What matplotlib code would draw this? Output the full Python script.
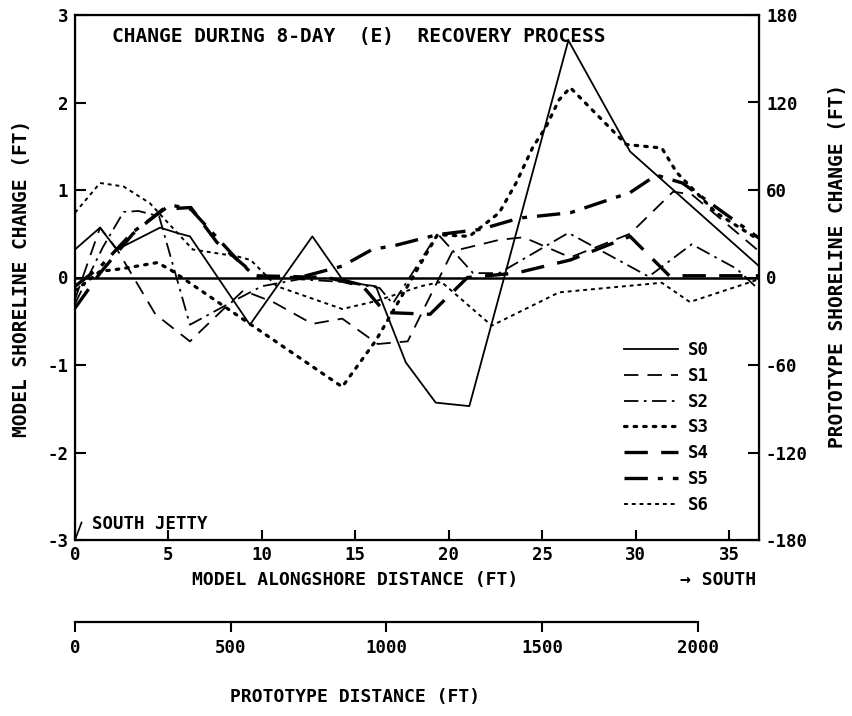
import matplotlib
matplotlib.use('Agg')
import matplotlib.pyplot as plt

plt.rcParams['font.family'] = ['DejaVu Sans Mono']
plt.rcParams['font.weight'] = 'bold'
plt.rcParams['axes.unicode_minus'] = False

# model alongshore distance (ft) / shoreline change (ft)
s0_x = [0, 1.34, 2.23, 2.8, 4.55, 5.45, 6.15, 9.36, 12.7, 14.3, 15.4, 16.1, 17.7, 19.3, 21.1, 26.4, 29.7, 36.6]
s0_y = [0.32, 0.57, 0.32, 0.38, 0.57, 0.51, 0.47, -0.54, 0.47, -0.02, -0.08, -0.1, -0.97, -1.43, -1.47, 2.71, 1.44, 0.13]

s1_x = [0, 1.34, 2.25, 4.3, 6.15, 7.9, 9.0, 10.6, 12.7, 14.3, 16.2, 17.8, 20.2, 22.7, 24.0, 26.5, 29.7, 32.0, 33.0, 36.6]
s1_y = [-0.25, 0.57, 0.32, -0.42, -0.73, -0.37, -0.15, -0.28, -0.53, -0.47, -0.76, -0.73, 0.3, 0.43, 0.46, 0.23, 0.5, 0.98, 0.95, 0.3]

s2_x = [0, 1.5, 2.6, 3.4, 4.5, 6.15, 8.65, 10.0, 12.0, 14.3, 16.3, 17.0, 19.4, 21.3, 22.7, 26.4, 30.7, 33.0, 35.4, 36.6]
s2_y = [-0.3, 0.35, 0.75, 0.76, 0.7, -0.54, -0.25, -0.1, -0.02, -0.05, -0.12, -0.3, 0.5, 0.05, 0.05, 0.51, 0.01, 0.38, 0.1, -0.14]

s3_x = [0, 1.34, 2.5, 4.4, 5.1, 14.3, 16.1, 19.4, 21.1, 22.7, 23.6, 24.5, 25.2, 25.9, 26.5, 29.5, 31.4, 32.2, 34.3, 36.6]
s3_y = [-0.15, 0.07, 0.1, 0.17, 0.09, -1.25, -0.72, 0.49, 0.47, 0.74, 1.08, 1.49, 1.72, 2.03, 2.17, 1.52, 1.48, 1.2, 0.74, 0.43]

s4_x = [0, 1.34, 3.1, 4.7, 6.2, 7.6, 9.7, 13.5, 15.4, 16.6, 19.0, 21.0, 23.6, 26.5, 29.7, 31.8, 36.6]
s4_y = [-0.35, 0.05, 0.5, 0.78, 0.8, 0.4, 0.02, 0.0, -0.1, -0.4, -0.42, 0.0, 0.05, 0.2, 0.47, 0.02, 0.02]

s5_x = [0, 1.34, 3.1, 5.1, 6.2, 8.7, 9.7, 12.0, 14.3, 15.9, 17.2, 19.4, 21.7, 23.8, 26.5, 29.7, 31.1, 32.5, 36.6]
s5_y = [-0.1, 0.12, 0.52, 0.83, 0.78, 0.2, 0.0, 0.0, 0.13, 0.32, 0.37, 0.49, 0.55, 0.68, 0.74, 0.97, 1.17, 1.08, 0.45]

s6_x = [0, 1.34, 2.6, 4.0, 6.3, 8.7, 9.4, 10.8, 14.3, 16.1, 18.5, 19.6, 22.3, 25.9, 31.4, 32.9, 36.6]
s6_y = [0.74, 1.08, 1.04, 0.85, 0.32, 0.24, 0.2, -0.1, -0.36, -0.27, -0.1, -0.05, -0.55, -0.17, -0.06, -0.28, -0.02]

labels = ['S0', 'S1', 'S2', 'S3', 'S4', 'S5', 'S6']
scale = 60  # prototype ft per model ft
x_max = 36.6
proto_ticks = [0, 500, 1000, 1500, 2000]

series = [(s0_x, s0_y), (s1_x, s1_y), (s2_x, s2_y), (s3_x, s3_y),
          (s4_x, s4_y), (s5_x, s5_y), (s6_x, s6_y)]
styles = [
    dict(lw=1.3, ls='-'),
    dict(lw=1.3, ls=(0, (8, 5))),
    dict(lw=1.3, ls=(0, (8, 3, 1.5, 3))),
    dict(lw=2.3, ls=(0, (0.8, 2.2)), dash_capstyle='round'),
    dict(lw=2.4, ls=(0, (7, 4))),
    dict(lw=2.4, ls=(0, (7, 3, 1.5, 3))),
    dict(lw=1.4, ls=(0, (2, 2))),
]

W, H = 853, 716
fig = plt.figure(figsize=(W / 100, H / 100), dpi=100)
L, R, T, B = 75, 759, 15, 540
ax = fig.add_axes([L / W, 1 - B / H, (R - L) / W, (B - T) / H])

for (xs, ys), st, lab in zip(series, styles, labels):
    ax.plot(xs, ys, color='black', label=lab, **st)

ax.axhline(0, color='black', lw=1.8)
ax.set_xlim(0, x_max)
ax.set_ylim(-3, 3)
ax.set_xticks(range(0, 36, 5))
ax.set_yticks(range(-3, 4))
for s in ax.spines.values():
    s.set_linewidth(1.6)
ax.tick_params(axis='y', direction='in', length=8, width=1.5, labelsize=12.5, pad=5)
ax.tick_params(axis='x', direction='in', length=7, width=1.5, labelsize=12.5, pad=4)

ax2 = ax.twinx()
ax2.set_ylim(-3 * scale, 3 * scale)
ax2.set_yticks(range(-180, 181, 60))
ax2.tick_params(axis='y', direction='in', length=8, width=1.5, labelsize=12.5, pad=5)

fig.text(22 / W, 1 - 278 / H, 'MODEL SHORELINE CHANGE (FT)', fontsize=14,
         rotation=90, ha='center', va='center')
fig.text(838 / W, 1 - 266 / H, 'PROTOTYPE SHORELINE CHANGE (FT)', fontsize=14,
         rotation=90, ha='center', va='center')

ax.text(2.0, 2.75, 'CHANGE DURING 8-DAY  (E)  RECOVERY PROCESS', fontsize=14,
        va='center', ha='left')
ax.plot([0, 0.35], [-3, -2.8], color='black', lw=1.2)
ax.text(0.9, -2.82, 'SOUTH JETTY', fontsize=12.5, va='center', ha='left')

leg = ax.legend(loc='lower right', bbox_to_anchor=(0.95, 0.02), frameon=False,
                fontsize=12.5, handlelength=3.1, handletextpad=0.6,
                labelspacing=0.45)

fig.text(355 / W, 1 - 580 / H, 'MODEL ALONGSHORE DISTANCE (FT)', fontsize=13,
         ha='center', va='center')
fig.text(680 / W, 1 - 580 / H, '\u2192 SOUTH', fontsize=13, ha='left', va='center')

# prototype distance axis
proto_w = (max(proto_ticks) / scale) / x_max * (R - L)
axp = fig.add_axes([L / W, 1 - 622 / H, proto_w / W, 0.0001])
axp.set_xlim(0, max(proto_ticks))
axp.set_xticks(proto_ticks)
axp.set_yticks([])
for k in ['top', 'left', 'right']:
    axp.spines[k].set_visible(False)
axp.spines['bottom'].set_linewidth(1.6)
axp.tick_params(axis='x', direction='out', length=7, width=1.5, labelsize=12.5, pad=5)
fig.text(355 / W, 1 - 697 / H, 'PROTOTYPE DISTANCE (FT)', fontsize=13,
         ha='center', va='center')

fig.savefig('out.png', dpi=100)
